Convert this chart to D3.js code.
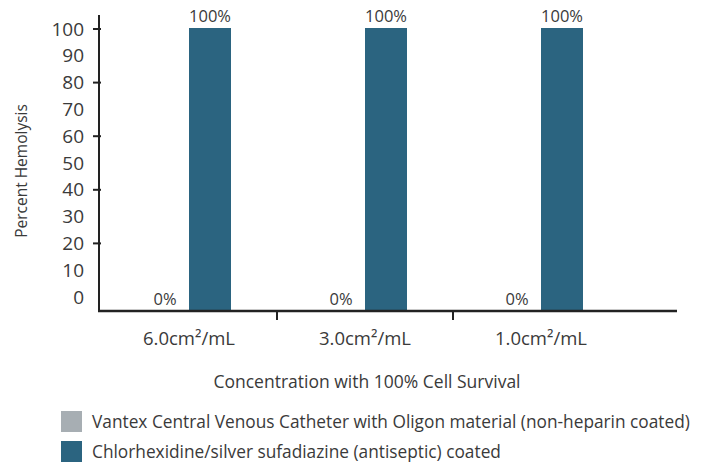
<!DOCTYPE html>
<html>
<head>
<meta charset="utf-8">
<script src="https://cdn.jsdelivr.net/npm/d3@7"></script>
<style>
  body { margin: 0; background: #fff; }
  svg text { font-family: "Open Sans", "Noto Sans", sans-serif; fill: #3a3a3a; }
</style>
</head>
<body>
<svg id="chart" width="709" height="463"></svg>
<script>
// Data
const categories = ['6.0cm²/mL', '3.0cm²/mL', '1.0cm²/mL'];
const seriesNames = [
  'Vantex Central Venous Catheter with Oligon material (non-heparin coated)',
  'Chlorhexidine/silver sufadiazine (antiseptic) coated'
];
const vantexValues = [0, 0, 0];
const chlorhexidineValues = [100, 100, 100];
const yTickValues = [0, 10, 20, 30, 40, 50, 60, 70, 80, 90, 100];
const yTickMarks = [20, 40, 60, 80, 100];
const colors = ['#a7aeb3', '#2b6480'];

const svg = d3.select('#chart');

// Scales
const x = d3.scaleBand().domain(categories).range([101, 629]);
const sub = d3.scaleBand().domain([0, 1]).range([46, 130]);
const yBar = d3.scaleLinear().domain([0, 100]).range([311, 28]);
const yLab = d3.scaleLinear().domain([0, 100]).range([297, 29]);

const table = categories.map((c, i) => ({
  cat: c,
  vals: [vantexValues[i], chlorhexidineValues[i]]
}));

// Bars
const groups = svg.selectAll('.grp')
  .data(table)
  .join('g')
  .attr('class', 'grp')
  .attr('transform', d => `translate(${x(d.cat)},0)`);

groups.selectAll('rect')
  .data(d => d.vals.map((v, k) => ({ v, k })))
  .join('rect')
  .attr('x', d => sub(d.k))
  .attr('width', sub.bandwidth())
  .attr('y', d => yBar(d.v))
  .attr('height', d => yBar(0) - yBar(d.v))
  .attr('fill', d => colors[d.k]);

groups.selectAll('.vlab')
  .data(d => d.vals.map((v, k) => ({ v, k })))
  .join('text')
  .attr('class', 'vlab')
  .attr('x', d => sub(d.k) + sub.bandwidth() / 2 - (d.k === 0 ? 3 : 0))
  .attr('y', d => yBar(d.v) - 6)
  .attr('text-anchor', 'middle')
  .style('font-size', '16.5px')
  .text(d => d.v + '%');

// Y axis
svg.append('line')
  .attr('x1', 99).attr('x2', 99)
  .attr('y1', 15).attr('y2', 311)
  .attr('stroke', '#222').attr('stroke-width', 2);

svg.selectAll('.ytm')
  .data(yTickMarks)
  .join('line')
  .attr('class', 'ytm')
  .attr('x1', 93).attr('x2', 101)
  .attr('y1', d => yLab(d)).attr('y2', d => yLab(d))
  .attr('stroke', '#222').attr('stroke-width', 2);

svg.selectAll('.ylab')
  .data(yTickValues)
  .join('text')
  .attr('class', 'ylab')
  .attr('x', 84)
  .attr('y', d => yLab(d))
  .attr('dy', '0.35em')
  .attr('text-anchor', 'end')
  .style('font-size', '19px')
  .text(d => d);

svg.append('text')
  .attr('transform', 'translate(27,171) rotate(-90)')
  .attr('text-anchor', 'middle')
  .style('font-size', '15.5px')
  .text('Percent Hemolysis');

// X axis
svg.append('line')
  .attr('x1', 98).attr('x2', 677)
  .attr('y1', 311).attr('y2', 311)
  .attr('stroke', '#222').attr('stroke-width', 2.5);

svg.selectAll('.xsep')
  .data(categories.slice(1))
  .join('line')
  .attr('class', 'xsep')
  .attr('x1', d => x(d)).attr('x2', d => x(d))
  .attr('y1', 311).attr('y2', 320)
  .attr('stroke', '#222').attr('stroke-width', 2);

svg.selectAll('.xlab')
  .data(categories)
  .join('text')
  .attr('class', 'xlab')
  .attr('x', d => x(d) + sub(1))
  .attr('y', 345)
  .attr('text-anchor', 'middle')
  .style('font-size', '18.5px')
  .text(d => d);

svg.append('text')
  .attr('x', 367)
  .attr('y', 388)
  .attr('text-anchor', 'middle')
  .style('font-size', '17.5px')
  .text('Concentration with 100% Cell Survival');

// Legend
const legend = svg.selectAll('.leg')
  .data(seriesNames)
  .join('g')
  .attr('class', 'leg')
  .attr('transform', (d, i) => `translate(61,${411 + i * 30})`);

legend.append('rect')
  .attr('width', 21).attr('height', 21)
  .attr('fill', (d, i) => colors[i]);

legend.append('text')
  .attr('x', 31)
  .attr('y', 11)
  .attr('dy', '0.35em')
  .style('font-size', '17.3px')
  .text(d => d);
</script>
</body>
</html>
